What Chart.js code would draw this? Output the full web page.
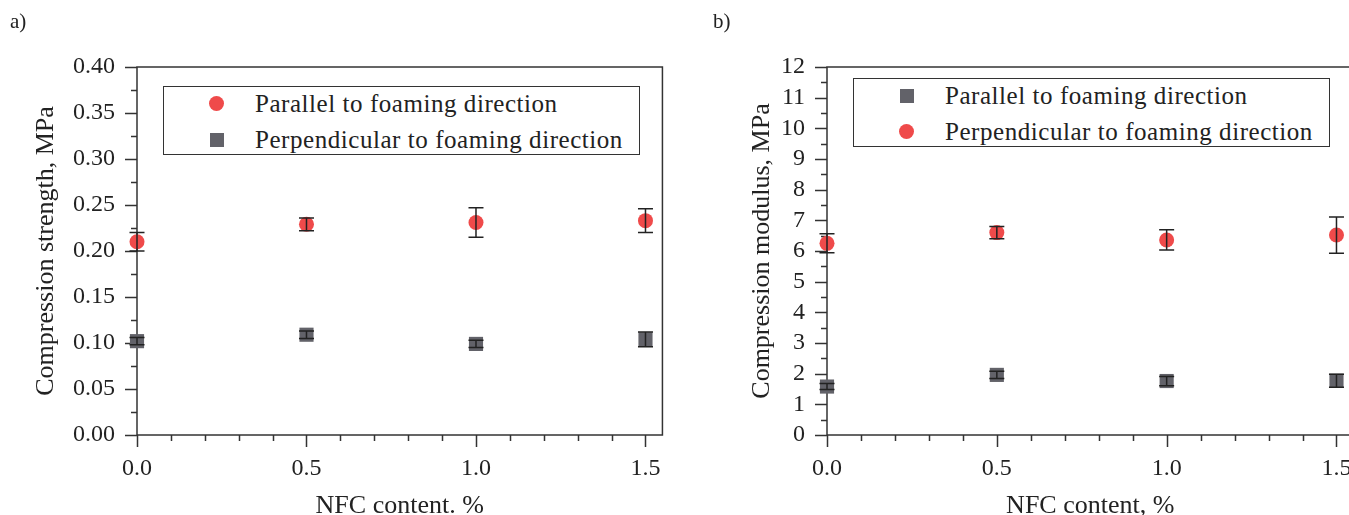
<!DOCTYPE html>
<html>
<head>
<meta charset="utf-8">
<script src="https://cdn.jsdelivr.net/npm/chart.js@4"></script>
<style>
  html, body { margin: 0; padding: 0; background: #fff; overflow: hidden; }
  #wrap { position: relative; width: 1349px; height: 515px; overflow: hidden; }
  canvas { position: absolute; top: 0; }
  .panel { position: absolute; top: 9px; font: 21px "Liberation Serif", serif; color: #222; }
  .legend {
    position: absolute; width: 477px; height: 69px; box-sizing: border-box;
    border: 1.5px solid #333; background: #fff;
    font: 25px "Liberation Serif", serif; letter-spacing: 0.55px; color: #222;
  }
  .legend .txt { position: absolute; left: 91px; line-height: 28px; white-space: nowrap; }
  .legend .dot { position: absolute; left: 45px; width: 15px; height: 15px; border-radius: 50%; background: #EF4A4A; }
  .legend .sq  { position: absolute; left: 46px; width: 14px; height: 14px; background: #626269; }
</style>
</head>
<body>
<div id="wrap">
  <canvas id="chartA" width="680" height="515" style="left:0"></canvas>
  <canvas id="chartB" width="681" height="515" style="left:690px"></canvas>

  <div class="panel" style="left:10px">a)</div>
  <div class="panel" style="left:713px">b)</div>

  <div class="legend" style="left:163px; top:86px">
    <div class="dot" style="top:9px"></div>
    <div class="txt" style="top:3px">Parallel to foaming direction</div>
    <div class="sq" style="top:46px"></div>
    <div class="txt" style="top:39px">Perpendicular to foaming direction</div>
  </div>
  <div class="legend" style="left:853px; top:78px">
    <div class="sq" style="top:10px"></div>
    <div class="txt" style="top:3px">Parallel to foaming direction</div>
    <div class="dot" style="top:45px"></div>
    <div class="txt" style="top:39px">Perpendicular to foaming direction</div>
  </div>
</div>

<script>
// --- dane ---
const nfcContent = [0.0, 0.5, 1.0, 1.5];

// a) resistência à compressão, MPa
const strengthParallel    = [0.210, 0.229, 0.231, 0.233];
const strengthParallelErr = [0.010, 0.007, 0.016, 0.013];
const strengthPerp        = [0.102, 0.109, 0.099, 0.104];
const strengthPerpErr     = [0.004, 0.004, 0.004, 0.008];

// b) módulo de compressão, MPa
const modulusParallel    = [1.58, 1.96, 1.76, 1.77];
const modulusParallelErr = [0.10, 0.12, 0.15, 0.21];
const modulusPerp        = [6.25, 6.60, 6.36, 6.52];
const modulusPerpErr     = [0.31, 0.20, 0.33, 0.59];

const xTicks        = [0.0, 0.5, 1.0, 1.5];
const strengthTicks = [0.00, 0.05, 0.10, 0.15, 0.20, 0.25, 0.30, 0.35, 0.40];
const modulusTicks  = [0, 1, 2, 3, 4, 5, 6, 7, 8, 9, 10, 11, 12];

const RED  = '#EF4A4A';
const GREY = '#626269';
const INK  = '#333333';
const FONT = '"Liberation Serif", serif';

const midpoints = (arr, n) => {
  const out = [];
  for (let i = 0; i < arr.length - 1; i++) {
    const step = (arr[i + 1] - arr[i]) / n;
    for (let k = 1; k < n; k++) out.push(arr[i] + k * step);
  }
  return out;
};

// moldura + marcas maiores/menores
const framePlugin = {
  id: 'frame',
  beforeDatasetsDraw(chart, args, opts) {
    const { ctx, chartArea: a, scales: { x, y } } = chart;
    ctx.save();
    ctx.strokeStyle = INK;
    ctx.lineWidth = 1.5;
    ctx.strokeRect(a.left, a.top, a.right - a.left, a.bottom - a.top);
    ctx.beginPath();
    const xt = (vals, len) => vals.forEach(v => {
      const px = Math.round(x.getPixelForValue(v)) + 0.5;
      ctx.moveTo(px, a.bottom); ctx.lineTo(px, a.bottom + len);
    });
    const yt = (vals, len) => vals.forEach(v => {
      const py = Math.round(y.getPixelForValue(v)) + 0.5;
      ctx.moveTo(a.left, py); ctx.lineTo(a.left - len, py);
    });
    xt(opts.xMajor, 12); xt(opts.xMinor, 6);
    yt(opts.yMajor, 12); yt(opts.yMinor, 6);
    ctx.stroke();
    ctx.restore();
  }
};

// barras de erro
const errorPlugin = {
  id: 'errbars',
  afterDatasetsDraw(chart) {
    const { ctx, scales: { x, y } } = chart;
    ctx.save();
    ctx.strokeStyle = '#222';
    ctx.lineWidth = 1.5;
    chart.data.datasets.forEach(ds => {
      if (!ds.errors) return;
      ds.data.forEach((p, i) => {
        const e = ds.errors[i];
        const px = x.getPixelForValue(p.x);
        const y1 = y.getPixelForValue(p.y + e);
        const y2 = y.getPixelForValue(p.y - e);
        ctx.beginPath();
        ctx.moveTo(px, y1); ctx.lineTo(px, y2);
        ctx.moveTo(px - 7.5, y1); ctx.lineTo(px + 7.5, y1);
        ctx.moveTo(px - 7.5, y2); ctx.lineTo(px + 7.5, y2);
        ctx.stroke();
      });
    });
    ctx.restore();
  }
};

const pts = (ys) => nfcContent.map((x, i) => ({ x, y: ys[i] }));

const circleSet = (ys, errs) => ({
  data: pts(ys), errors: errs, pointStyle: 'circle', pointRadius: 7.5,
  backgroundColor: RED, borderColor: RED, borderWidth: 0, showLine: false, clip: false
});
const squareSet = (ys, errs) => ({
  data: pts(ys), errors: errs, pointStyle: 'rect', pointRadius: 10,
  backgroundColor: GREY, borderColor: GREY, borderWidth: 0, showLine: false, clip: false
});

const makeChart = (canvas, datasets, yCfg) => new Chart(canvas, {
  type: 'scatter',
  data: { datasets },
  options: {
    responsive: false,
    animation: false,
    events: [],
    layout: { padding: { left: 0, top: 67, right: 16, bottom: 0 } },
    plugins: {
      legend: { display: false },
      tooltip: { enabled: false },
      frame: {
        xMajor: xTicks, xMinor: midpoints(xTicks, 5),
        yMajor: yCfg.ticks, yMinor: midpoints(yCfg.ticks, 2)
      }
    },
    scales: {
      x: {
        type: 'linear', min: 0, max: 1.55,
        afterBuildTicks: s => { s.ticks = xTicks.map(v => ({ value: v })); },
        afterFit: s => { s.height = 80; },
        grid: { display: false, drawTicks: false },
        border: { display: false },
        ticks: {
          padding: 19, color: '#222', font: { family: FONT, size: 24 },
          autoSkip: false, maxRotation: 0, callback: v => Number(v).toFixed(1)
        },
        title: {
          display: true, text: yCfg.xTitle, color: '#222',
          font: { family: FONT, size: 26, lineHeight: 0.7 }, padding: { top: 0, bottom: 0 }
        }
      },
      y: {
        type: 'linear', min: yCfg.ticks[0], max: yCfg.ticks[yCfg.ticks.length - 1],
        afterBuildTicks: s => { s.ticks = yCfg.ticks.map(v => ({ value: v })); },
        afterFit: s => { s.width = 137; },
        grid: { display: false, drawTicks: false },
        border: { display: false },
        ticks: {
          padding: 22, color: '#222', font: { family: FONT, size: 24 },
          autoSkip: false, callback: v => Number(v).toFixed(yCfg.decimals)
        },
        title: {
          display: true, text: yCfg.title, color: '#222',
          font: { family: FONT, size: 26 }, padding: { top: yCfg.titlePad, bottom: 0 }
        }
      }
    }
  },
  plugins: [framePlugin, errorPlugin]
});

makeChart(document.getElementById('chartA'), [
  circleSet(strengthParallel, strengthParallelErr),
  squareSet(strengthPerp, strengthPerpErr)
], {
  ticks: strengthTicks, decimals: 2, titlePad: 31,
  title: 'Compression strength, MPa', xTitle: 'NFC content. %'
});

makeChart(document.getElementById('chartB'), [
  squareSet(modulusParallel, modulusParallelErr),
  circleSet(modulusPerp, modulusPerpErr)
], {
  ticks: modulusTicks, decimals: 0, titlePad: 57,
  title: 'Compression modulus, MPa', xTitle: 'NFC content, %'
});
</script>
</body>
</html>
